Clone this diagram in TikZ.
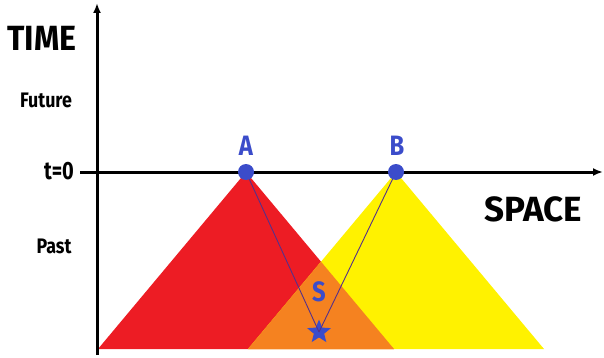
\documentclass[tikz,border=0pt]{standalone}
\usepackage{fontspec}
\setmainfont{Fira Sans}
\usetikzlibrary{shapes.geometric,arrows.meta,calc}
\definecolor{cred}{HTML}{ED1C24}
\definecolor{cyellow}{HTML}{FFF200}
\definecolor{corange}{HTML}{F58220}
\definecolor{cblue}{HTML}{3B4CCA}
\definecolor{cline}{HTML}{55308A}
\tikzset{
  axis/.style={line width=3pt,-{Latex[length=10pt,width=8pt]}},
  dot/.style={circle,fill=cblue,inner sep=0pt,minimum size=16pt},
  evlabel/.style={text=cblue,font=\fontsize{28}{28}\selectfont\bfseries},
  sidelabel/.style={font=\fontsize{21}{21}\selectfont\bfseries},
  biglabel/.style={font=\fontsize{35}{35}\selectfont\bfseries},
  ray/.style={cline,line width=0.9pt},
}
\begin{document}
\begin{tikzpicture}[x=1pt,y=-1pt]
\useasboundingbox (0,0) rectangle (604,358);
% cones
\coordinate (Ac) at (246,172);
\coordinate (Bc) at (396,172);
\coordinate (RL) at (98,349);
\coordinate (RR) at (394,349);
\coordinate (YL) at (248,349);
\coordinate (YR) at (544,349);
\coordinate (X) at (321,261.7);
\fill[cred] (Ac) -- (RL) -- (RR) -- cycle;
\fill[cyellow] (Bc) -- (YL) -- (YR) -- cycle;
\fill[corange] (X) -- (YL) -- (RR) -- cycle;
% axes
\coordinate (O) at (97,355);
\coordinate (Ttop) at (97,3);
\coordinate (Hl) at (80,172);
\coordinate (Hr) at (603,172);
\draw[axis] (O) -- (Ttop);
\draw[axis] (Hl) -- (Hr);
% star and rays
\node[star,star points=5,star point ratio=2.3,fill=cblue,inner sep=0pt,minimum size=25pt] (S) at (319,332) {};
\draw[ray] (Ac) -- (S.center);
\draw[ray] (Bc) -- (S.center);
\node[dot] (A) at (Ac) {};
\node[dot] (B) at (Bc) {};
\node[evlabel] (Al) at (246,146) {\scalebox{0.85}[1]{A}};
\node[evlabel] (Bl) at (397,146) {\scalebox{0.85}[1]{B}};
\node[evlabel] (Sl) at (319,292) {\scalebox{0.85}[1]{S}};
% labels
\node[biglabel] (time) at (42,38) {\scalebox{0.92}[1]{TIME}};
\node[biglabel] (space) at (533,209) {\scalebox{1.0}[1]{SPACE}};
\node[sidelabel] (fut) at (46,100) {\scalebox{0.85}[1]{Future}};
\node[sidelabel,font=\fontsize{25}{25}\selectfont\bfseries] (t0) at (59,171) {\scalebox{0.8}[1]{t=0}};
\node[sidelabel] (past) at (54,246) {\scalebox{0.85}[1]{Past}};
\end{tikzpicture}
\end{document}
